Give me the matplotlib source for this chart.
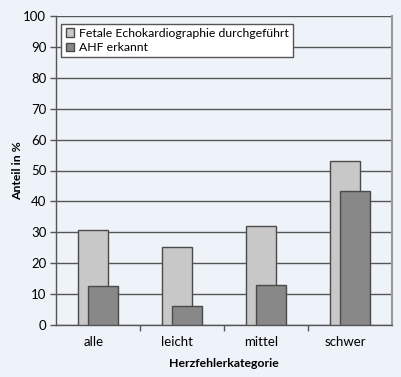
import numpy as np
import matplotlib
matplotlib.use("Agg")
import matplotlib.pyplot as plt
from matplotlib.ticker import FixedLocator

plt.rcParams["font.family"] = ["Lato", "DejaVu Sans"]

# Data
categories = ["alle", "leicht", "mittel", "schwer"]
echo_done = [30.6, 25.2, 31.9, 53.1]     # Fetale Echokardiographie durchgeführt
ahf_found = [12.6, 6.1, 12.8, 43.4]      # AHF erkannt
series_names = ["Fetale Echokardiographie durchgeführt", "AHF erkannt"]

BG = "#eef2f9"
EDGE = "#4a4a4a"

fig = plt.figure(figsize=(4.02, 3.77), dpi=100, facecolor=BG)
ax = fig.add_axes([56 / 402, 1 - 325 / 377, 336 / 402, 309 / 377])
ax.set_facecolor(BG)

x = np.arange(len(categories))
width = 0.357
shift = 0.055
ax.bar(x - shift, echo_done, width, color="#c8c8c8", edgecolor=EDGE,
       linewidth=1.0, label=series_names[0], zorder=3)
ax.bar(x + shift, ahf_found, width, color="#888888", edgecolor=EDGE,
       linewidth=1.0, label=series_names[1], zorder=4)

# Axes limits and ticks
ax.set_xlim(-0.5, len(categories) - 0.5)
ax.set_ylim(0, 100)
ax.set_yticks(np.arange(0, 101, 10))
ax.yaxis.grid(True, color="#555555", linewidth=1.0, zorder=1)
ax.tick_params(axis="y", length=4, width=1, color="#555555", labelsize=9.5, pad=3)

# Labels sit under the light bars, tick marks between categories
ax.set_xticks(x - shift)
ax.set_xticklabels(categories)
ax.tick_params(axis="x", length=0, labelsize=9.5, pad=8)
ax.xaxis.set_minor_locator(FixedLocator(x[:-1] + 0.5))
ax.tick_params(axis="x", which="minor", length=4, width=1, color="#555555")

for side in ["left", "bottom"]:
    ax.spines[side].set_color("#555555")
    ax.spines[side].set_linewidth(1.0)
ax.spines["right"].set_color("#999999")
ax.spines["right"].set_linewidth(1.5)
ax.spines["top"].set_visible(False)

ax.set_ylabel("Anteil in %", fontsize=8.8, fontweight="bold")
ax.yaxis.set_label_coords(-0.098, 0.5)
ax.set_xlabel("Herzfehlerkategorie", fontsize=8.8, fontweight="bold", labelpad=7)

leg = ax.legend(loc="upper left", bbox_to_anchor=(0.016, 0.975), fontsize=8.8,
                frameon=True, fancybox=False, handlelength=0.7, handleheight=0.7,
                handletextpad=0.4, borderpad=0.35, labelspacing=0.25,
                borderaxespad=0)
leg.get_frame().set_edgecolor("#555555")
leg.get_frame().set_linewidth(1.0)
leg.get_frame().set_facecolor("white")
leg.get_frame().set_alpha(1.0)
leg.set_zorder(5)

fig.savefig("out.png", dpi=100, facecolor=BG)
